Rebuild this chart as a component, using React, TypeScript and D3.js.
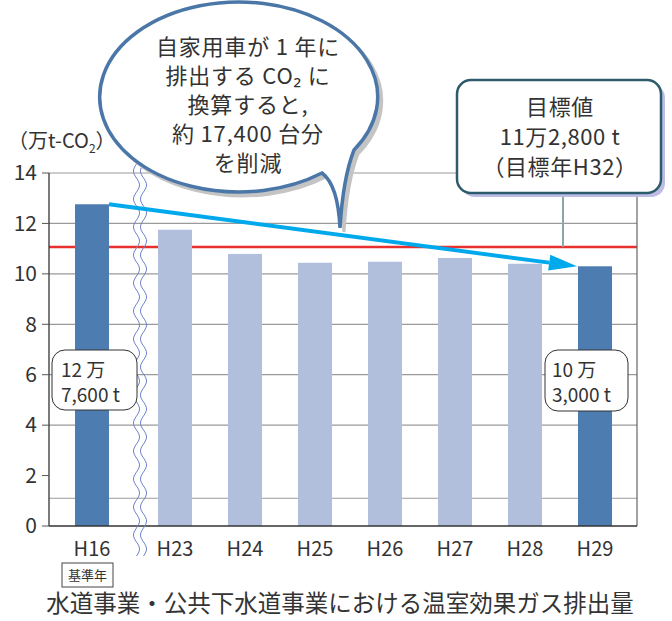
import React from "react";
import * as d3 from "d3";

const categories = ["H16", "H23", "H24", "H25", "H26", "H27", "H28", "H29"];
const values = [12.76, 11.75, 10.79, 10.44, 10.48, 10.63, 10.4, 10.3];
const highlight = [true, false, false, false, false, false, false, true];
const yTicks = [0, 2, 4, 6, 8, 10, 12, 14];
const gridValues = [1.1, 4, 6, 8, 10, 12, 14];
const targetValue = 11.07;
const bubbleLines = ["自家用車が 1 年に", "排出する CO₂ に", "換算すると,", "約 17,400 台分", "を削減"];
const targetLines = ["目標値", "11万2,800 t", "（目標年H32）"];
const startLabel = ["12 万", "7,600 t"];
const endLabel = ["10 万", "3,000 t"];
const title = "水道事業・公共下水道事業における温室効果ガス排出量";

const FONT = "'Noto Sans CJK JP', 'Noto Sans', sans-serif";
const W = 672;
const H = 621;
const left = 49;
const right = 637;
const top = 173;
const bottom = 526;

export default function App() {
  const y = d3.scaleLinear().domain([0, 14]).range([bottom, top]);
  const xb = d3.scaleBand().domain(categories).range([88, 612]).paddingInner(0.5143).paddingOuter(0);
  const bw = xb.bandwidth();
  const xs = (c: string, i: number) => (xb(c) as number) + (i === 0 ? -13 : 0);

  // wavy break lines
  const waveY = d3.range(150, 557, 1);
  const wave = (off: number) =>
    d3.line<number>().x((yy) => 140 + off + 3 * Math.sin((2 * Math.PI * (yy - 150)) / 28)).y((yy) => yy)(waveY) as string;

  // arrow
  const sx = xs(categories[0], 0) + bw;
  const sy = y(values[0]);
  const ex = xs(categories[7], 7) - 1;
  const ey = y(values[7]);
  const ang = Math.atan2(ey - sy, ex - sx);
  const headL = 28;
  const headW = 8;
  const bx = ex - headL * Math.cos(ang);
  const by = ey - headL * Math.sin(ang);
  const px = -Math.sin(ang);
  const py = Math.cos(ang);
  const head = `M${ex},${ey} L${bx + px * headW},${by + py * headW} L${bx - px * headW},${by - py * headW} Z`;

  // bubble
  const rx = 139, ry = 95;
  const A = [354, 150];
  const B = [322, 173];
  const tip = [340, 228];
  const bubblePath = `M${A[0]},${A[1]} A${rx},${ry} 0 1 0 ${B[0]},${B[1]} Q${338},${185} ${tip[0]},${tip[1]} Q${343},${178} ${A[0]},${A[1]} Z`;

  const textStyle = { fontFamily: FONT, fill: "#333" } as React.CSSProperties;

  return (
    <svg width={W} height={H} style={{ position: "absolute", left: 0, top: 0, background: "#fff" }}>
      {/* grid */}
      {gridValues.map((v) => (
        <line key={"g" + v} x1={left} x2={right} y1={y(v)} y2={y(v)} stroke="#9a9a9a" strokeWidth={1.2} />
      ))}
      {/* red target line */}
      <line x1={left} x2={right} y1={y(targetValue)} y2={y(targetValue)} stroke="#e8302e" strokeWidth={2.5} />
      {/* bars */}
      {categories.map((c, i) => (
        <rect key={c} x={xs(c, i)} y={y(values[i])} width={bw} height={bottom - y(values[i])} fill={highlight[i] ? "#4d7cb1" : "#b1bfdc"} />
      ))}
      {/* axes */}
      <line x1={left} x2={left} y1={top} y2={bottom} stroke="#333" strokeWidth={1.3} />
      <line x1={right} x2={right} y1={top} y2={bottom} stroke="#666" strokeWidth={1.2} />
      <line x1={left} x2={right} y1={bottom} y2={bottom} stroke="#333" strokeWidth={1.3} />
      {yTicks.map((t) => (
        <g key={"t" + t}>
          <line x1={left - 7} x2={left} y1={y(t)} y2={y(t)} stroke="#555" strokeWidth={1} />
          <text x={37} y={y(t)} dy="0.35em" textAnchor="end" fontSize={21} style={textStyle}>
            {t}
          </text>
        </g>
      ))}
      <text x={8} y={148} fontSize={20} style={textStyle}>
        （万t-CO<tspan fontSize={12} dy={5}>2</tspan><tspan dy={-5}>）</tspan>
      </text>
      {/* break */}
      <path d={wave(-3.5)} fill="none" stroke="#6f86cf" strokeWidth={1} />
      <path d={wave(3.5)} fill="none" stroke="#6f86cf" strokeWidth={1} />
      {/* x labels */}
      {categories.map((c, i) => (
        <text key={"x" + c} x={xs(c, i) + bw / 2} y={556} textAnchor="middle" fontSize={20} style={textStyle}>
          {c}
        </text>
      ))}
      <rect x={62} y={563} width={51} height={24} fill="#fff" stroke="#444" strokeWidth={1} />
      <text x={87.5} y={580} textAnchor="middle" fontSize={13} style={textStyle}>
        基準年
      </text>
      <text x={340} y={612} textAnchor="middle" fontSize={23.5} style={textStyle}>
        {title}
      </text>
      {/* arrow */}
      <line x1={sx} y1={sy} x2={bx} y2={by} stroke="#00a9ec" strokeWidth={4} />
      <path d={head} fill="#00a9ec" />
      {/* value labels */}
      <rect x={52} y={350} width={85} height={60} rx={13} fill="#fff" stroke="#333" strokeWidth={1} />
      {startLabel.map((l, i) => (
        <text key={"s" + i} x={61} y={377 + i * 25} fontSize={19} style={textStyle}>
          {l}
        </text>
      ))}
      <rect x={545} y={350} width={83} height={61} rx={13} fill="#fff" stroke="#333" strokeWidth={1} />
      {endLabel.map((l, i) => (
        <text key={"e" + i} x={552} y={377 + i * 25} fontSize={19} style={textStyle}>
          {l}
        </text>
      ))}
      {/* target box */}
      <line x1={563} x2={563} y1={190} y2={y(targetValue)} stroke="#8fa3ad" strokeWidth={2} />
      <rect x={461} y={84} width={204} height={113} rx={14} fill="#bdbde3" />
      <rect x={457} y={80} width={204} height={113} rx={14} fill="#fff" stroke="#2e5b6b" strokeWidth={2.5} />
      {targetLines.map((l, i) => (
        <text key={"tl" + i} x={560} y={115 + i * 30} textAnchor="middle" fontSize={22} letterSpacing={0.6} style={textStyle}>
          {l}
        </text>
      ))}
      {/* bubble */}
      <path d={bubblePath} transform="translate(4,4)" fill="#c4c4c4" stroke="#c4c4c4" strokeWidth={3} />
      <path d={bubblePath} fill="#fff" stroke="#4a77a8" strokeWidth={3.5} />
      {bubbleLines.map((l, i) => (
        <text key={"b" + i} x={248} y={55 + i * 29} textAnchor="middle" fontSize={22} letterSpacing={0.8} style={textStyle}>
          {l}
        </text>
      ))}
    </svg>
  );
}
